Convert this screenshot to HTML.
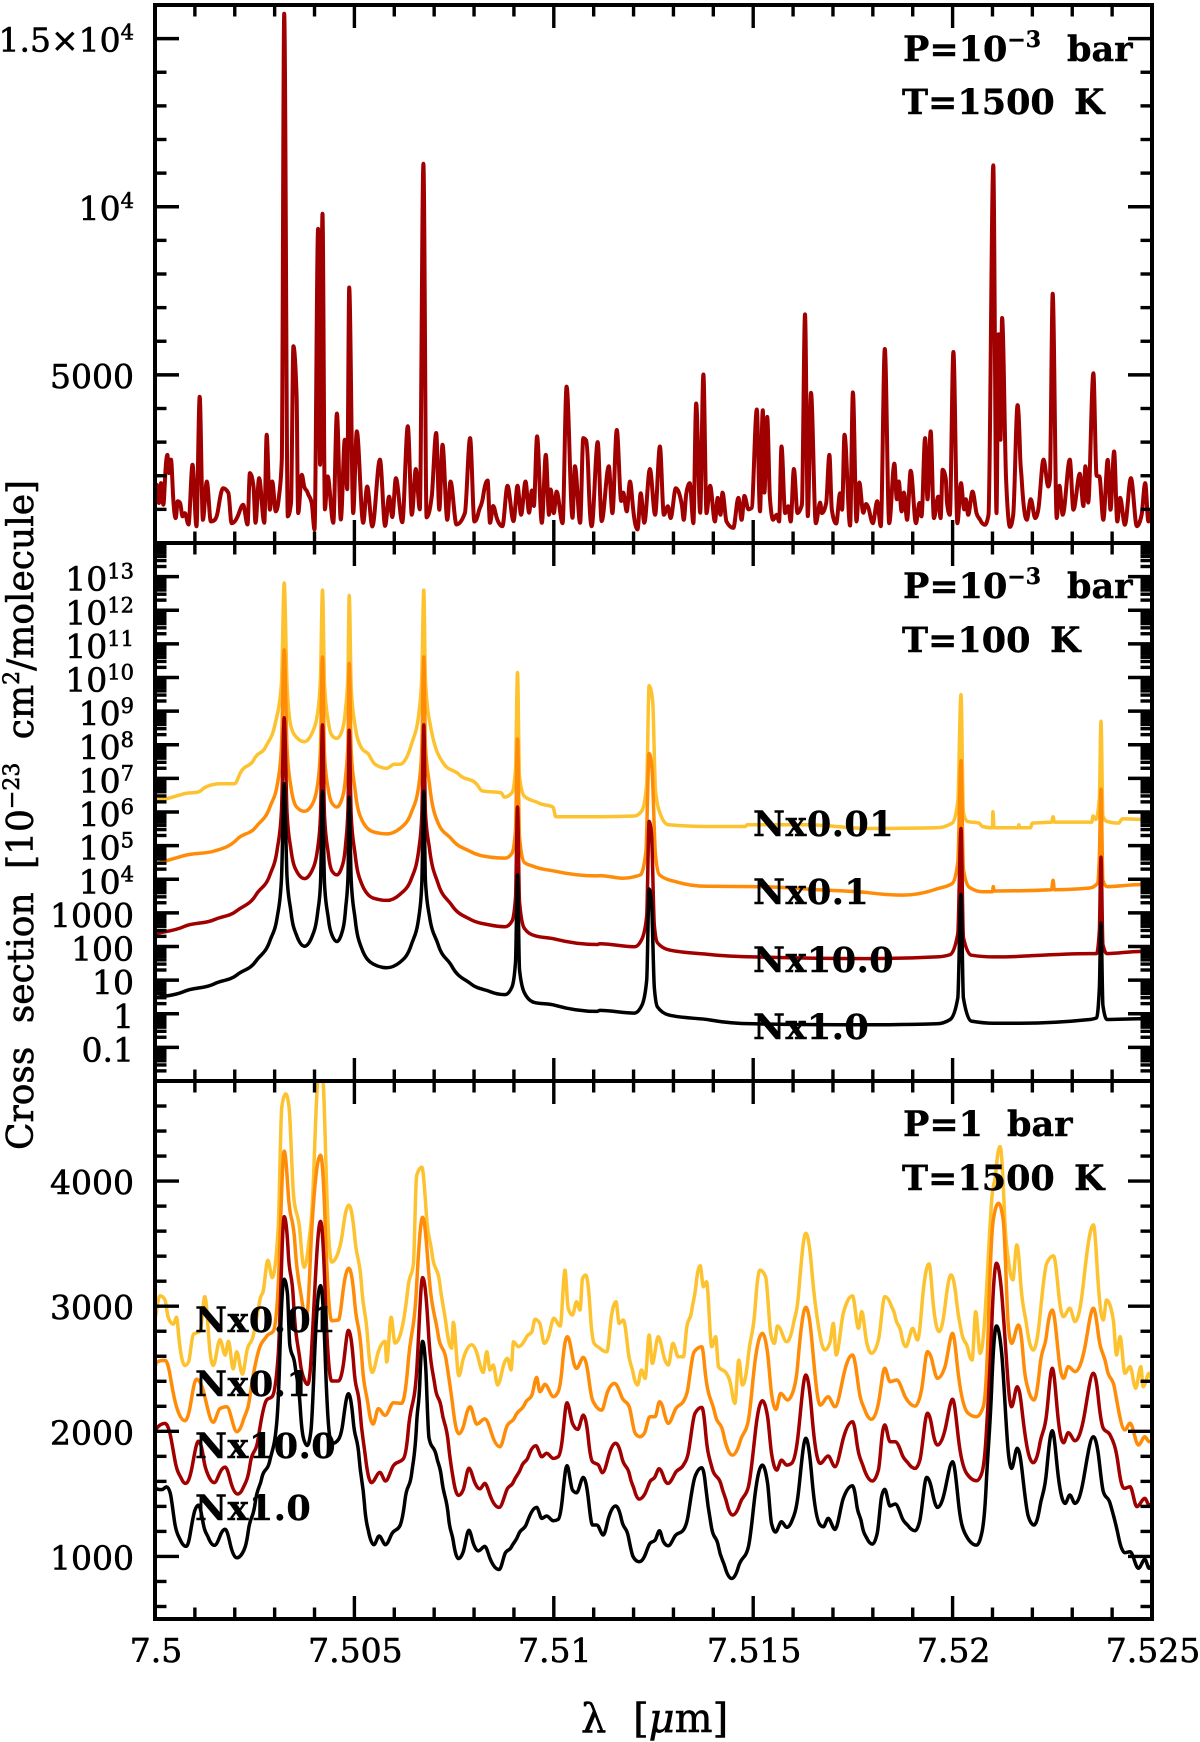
<!DOCTYPE html>
<html lang="en">
<head>
<meta charset="utf-8">
<title>Cross section spectra</title>
<style>
html,body{margin:0;padding:0;background:#fff}
svg{display:block}
text{font-family:"DejaVu Serif","Liberation Serif",serif;fill:#000}
.tick-label{font-size:33px;stroke:#000;stroke-width:.6px}
.note{font-size:35px;font-weight:bold;stroke:#000;stroke-width:.4px}
.series-label{font-size:35px;font-weight:bold;letter-spacing:.5px;stroke:#000;stroke-width:.4px}
.title{font-size:36px;stroke:#000;stroke-width:.6px}
</style>
</head>
<body>
<svg id="chart" xmlns="http://www.w3.org/2000/svg" width="1200" height="1742" viewBox="0 0 1200 1742">
<defs>
<clipPath id="clip-top"><rect x="155" y="5" width="997" height="538"/></clipPath>
<clipPath id="clip-mid"><rect x="155" y="543" width="997" height="538"/></clipPath>
<clipPath id="clip-bot"><rect x="155" y="1081" width="997" height="538"/></clipPath>
</defs>
<g id="curves"></g>
<g id="ticks"></g>
<g id="frames"></g>
<g id="labels"></g>

<text class="title" transform="translate(33,1150) rotate(-90)" word-spacing="12">Cross section [10<tspan font-size="22" dy="-14">−23</tspan><tspan dy="14"> cm</tspan><tspan font-size="22" dy="-14">2</tspan><tspan dy="14">/molecule]</tspan></text>
<text class="title" x="581" y="1732" font-size="40" style="font-size:40px" word-spacing="14">λ [<tspan font-style="italic">μ</tspan>m]</text>

<text class="note" x="903" y="61">P=10<tspan font-size="22" dy="-14">−3</tspan><tspan dy="14" x="1067">bar</tspan></text>
<text class="note" x="902" y="114">T=1500<tspan x="1074">K</tspan></text>
<text class="note" x="903" y="598">P=10<tspan font-size="22" dy="-14">−3</tspan><tspan dy="14" x="1067">bar</tspan></text>
<text class="note" x="902" y="652">T=100<tspan x="1050">K</tspan></text>
<text class="note" x="903" y="1136">P=1<tspan x="1007">bar</tspan></text>
<text class="note" x="902" y="1190">T=1500<tspan x="1074">K</tspan></text>

<text class="series-label" x="753" y="836">Nx0.01</text>
<text class="series-label" x="753" y="904">Nx0.1</text>
<text class="series-label" x="753" y="972">Nx10.0</text>
<text class="series-label" x="753" y="1039">Nx1.0</text>
<text class="series-label" x="195" y="1332">Nx0.01</text>
<text class="series-label" x="195" y="1396">Nx0.1</text>
<text class="series-label" x="195" y="1458">Nx10.0</text>
<text class="series-label" x="195" y="1520">Nx1.0</text>
</svg>

<script>
// Wavelength in every series: offset from 7.5 um, in nm. Pairs are [offset, value].
const xMajorValues=[0,5,10,15,20,25];
const xMajorLabels=["7.5","7.505","7.51","7.515","7.52","7.525"];
const xMinorValues=[1,2,3,4,6,7,8,9,11,12,13,14,16,17,18,19,21,22,23,24];

const topMajorValues=[5000,10000,15000];
const topMajorLabels=[["5000",""],["10","4"],["1.5×10","4"]];
const topMinorValues=[1000,2000,3000,4000,6000,7000,8000,9000,11000,12000,13000,14000];

const midMajorLogs=[-1,0,1,2,3,4,5,6,7,8,9,10,11,12,13];
const midMajorLabels=[["0.1",""],["1",""],["10",""],["100",""],["1000",""],["10","4"],["10","5"],["10","6"],["10","7"],["10","8"],["10","9"],["10","10"],["10","11"],["10","12"],["10","13"]];
const midMinorMultipliers=[2,3,4,5,6,7,8,9];
const midDecades=[-2,-1,0,1,2,3,4,5,6,7,8,9,10,11,12,13];

const botMajorValues=[1000,2000,3000,4000];
const botMajorLabels=[["1000",""],["2000",""],["3000",""],["4000",""]];
const botMinorValues=[600,800,1200,1400,1600,1800,2200,2400,2600,2800,3200,3400,3600,3800,4200,4400,4600];

// Top panel: P=1e-3 bar, T=1500 K, cross section
const topSeries=[[0,1190],[.04,1730],[.10,1190],[.15,1780],[.21,1140],[.25,1880],[.31,2620],[.35,2080],[.40,2480],[.46,1290],[.52,740],[.57,1240],[.63,1190],[.69,790],[.75,890],[.84,550],[.94,2330],[1.04,500],[1.12,4350],[1.20,690],[1.30,1830],[1.40,640],[1.50,690],[1.59,1040],[1.71,1630],[1.84,1490],[1.92,590],[2.09,840],[2.21,1140],[2.32,550],[2.38,2080],[2.47,1680],[2.52,600],[2.61,1930],[2.74,600],[2.80,3220],[2.88,990],[2.94,1830],[3.03,940],[3.11,1390],[3.18,2480],[3.24,15740],[3.33,790],[3.41,1190],[3.47,5850],[3.55,4370],[3.59,890],[3.68,2030],[3.74,1680],[3.83,1490],[3.93,1190],[4.0,400],[4.09,9340],[4.14,2330],[4.20,9790],[4.26,1000],[4.33,1980],[4.47,600],[4.56,3850],[4.66,700],[4.76,3070],[4.82,1600],[4.87,7600],[4.97,890],[5.06,3320],[5.22,600],[5.32,1680],[5.45,490],[5.64,2480],[5.77,510],[5.87,1380],[5.95,770],[6.04,1930],[6.20,620],[6.34,3470],[6.44,840],[6.54,2200],[6.64,1000],[6.73,11280],[6.81,760],[6.94,1400],[7.05,3270],[7.13,990],[7.21,2920],[7.33,690],[7.41,1830],[7.56,550],[7.77,890],[7.90,3120],[8.01,640],[8.11,900],[8.23,1400],[8.34,1860],[8.40,600],[8.48,1100],[8.57,740],[8.71,500],[8.84,1700],[8.99,650],[9.09,1700],[9.18,840],[9.29,1830],[9.38,900],[9.45,1560],[9.50,1100],[9.58,3170],[9.70,600],[9.80,2620],[9.88,840],[9.92,1590],[10.0,890],[10.07,1530],[10.22,590],[10.32,4650],[10.47,750],[10.53,2280],[10.66,600],[10.74,3120],[10.81,3050],[10.87,1930],[10.95,500],[11.10,3000],[11.20,650],[11.38,2280],[11.47,890],[11.58,3360],[11.69,1250],[11.74,1500],[11.83,940],[11.91,1830],[11.99,1000],[12.10,400],[12.18,1480],[12.27,600],[12.41,2200],[12.54,840],[12.66,2870],[12.76,840],[12.86,1090],[12.93,740],[13.06,1630],[13.21,1140],[13.26,690],[13.32,1450],[13.41,1780],[13.50,590],[13.57,4150],[13.67,900],[13.75,5010],[13.83,890],[13.92,1700],[14.04,640],[14.11,1340],[14.18,840],[14.23,1500],[14.33,640],[14.50,450],[14.63,1340],[14.71,690],[14.78,1400],[14.88,1000],[14.96,1040],[15.09,3970],[15.17,940],[15.24,3950],[15.28,1500],[15.35,3750],[15.42,1340],[15.50,690],[15.59,840],[15.65,640],[15.71,2870],[15.80,890],[15.88,1090],[15.94,640],[16.02,2200],[16.11,890],[16.22,1140],[16.30,6800],[16.37,800],[16.45,4470],[16.57,590],[16.68,1200],[16.72,890],[16.83,1190],[16.91,2620],[16.97,1000],[17.08,580],[17.18,1480],[17.23,990],[17.29,3220],[17.43,520],[17.50,4480],[17.59,640],[17.66,1800],[17.76,900],[17.83,1160],[17.90,1000],[18.0,590],[18.11,1240],[18.20,500],[18.30,5770],[18.41,590],[18.54,2360],[18.60,1300],[18.65,1830],[18.72,940],[18.78,1500],[18.86,690],[18.95,2150],[19.08,590],[19.17,1190],[19.22,790],[19.31,3120],[19.37,1300],[19.45,3320],[19.53,740],[19.64,1380],[19.70,740],[19.75,2180],[19.83,1900],[19.86,1200],[19.93,840],[20.02,5680],[20.12,590],[20.21,1780],[20.29,1000],[20.33,1300],[20.39,840],[20.50,1530],[20.60,890],[20.69,690],[20.81,540],[20.90,840],[21.02,11230],[21.10,890],[21.15,6210],[21.20,3070],[21.24,6690],[21.34,1960],[21.44,480],[21.52,840],[21.63,4100],[21.69,2720],[21.73,1930],[21.86,690],[21.96,1300],[22.07,740],[22.15,1000],[22.28,2480],[22.40,1680],[22.44,1900],[22.51,7410],[22.61,740],[22.68,1700],[22.76,840],[22.94,2480],[23.03,990],[23.19,2060],[23.28,1100],[23.33,2280],[23.40,1200],[23.53,5050],[23.61,2000],[23.68,1980],[23.78,690],[23.89,2470],[23.96,990],[24.05,2720],[24.13,640],[24.20,1340],[24.32,540],[24.47,1930],[24.62,500],[24.74,840],[24.83,1780],[24.91,640],[25,1000]];

// Middle panel: P=1e-3 bar, T=100 K, log10 of cross section
const midYellow=[[0,6.36],[.34,6.41],[.72,6.54],[1.10,6.60],[1.25,6.73],[1.63,6.84],[1.99,6.84],[2.14,7.16],[2.49,7.58],[2.78,7.95],[3.02,8.65],[3.17,9.81],[3.24,12.81],[3.31,9.81],[3.41,8.54],[3.55,8.22],[3.75,8.09],[3.93,8.33],[4.08,8.96],[4.15,10.03],[4.20,12.60],[4.25,9.81],[4.35,8.65],[4.44,8.27],[4.56,8.19],[4.68,8.38],[4.78,9.07],[4.84,10.13],[4.87,12.44],[4.92,9.71],[5.02,8.54],[5.18,7.90],[5.37,7.69],[5.52,7.42],[5.81,7.30],[6.0,7.42],[6.14,7.42],[6.43,8.01],[6.62,8.96],[6.69,10.03],[6.74,12.60],[6.78,9.92],[6.91,8.54],[7.25,7.42],[7.63,7.11],[8.06,6.84],[8.2,6.63],[8.68,6.57],[8.76,6.44],[8.95,6.57],[9.04,7.26],[9.09,10.15],[9.14,7.05],[9.26,6.47],[9.64,6.26],[9.98,6.15],[10.05,5.86],[11.08,5.86],[11.16,5.86],[12.02,5.88],[12.21,6.04],[12.33,6.84],[12.39,9.76],[12.48,9.28],[12.55,6.63],[12.69,5.88],[12.87,5.62],[13.84,5.57],[14.80,5.57],[14.85,5.62],[16.34,5.62],[17.88,5.51],[19.6,5.53],[19.99,5.67],[20.13,6.31],[20.21,9.49],[20.27,5.99],[20.37,5.72],[20.66,5.67],[20.75,5.57],[21.0,5.53],[21.01,6.01],[21.04,5.53],[21.64,5.53],[21.66,5.62],[21.69,5.53],[21.95,5.53],[22.0,5.67],[22.48,5.70],[22.52,5.86],[22.55,5.70],[23.49,5.70],[23.52,5.88],[23.59,5.78],[23.68,6.41],[23.72,8.70],[23.77,5.88],[23.87,5.72],[24.16,5.67],[24.26,5.80],[24.69,5.78],[25,5.78]];
const midOrange=[[0,4.45],[.72,4.70],[1.49,4.84],[2.06,5.19],[2.54,5.57],[2.88,6.15],[3.07,6.84],[3.17,7.90],[3.24,10.82],[3.31,7.90],[3.41,6.73],[3.55,6.15],[3.75,6.02],[3.93,6.20],[4.08,6.84],[4.15,7.90],[4.20,10.61],[4.25,7.69],[4.35,6.63],[4.44,6.26],[4.56,6.15],[4.68,6.36],[4.78,7.05],[4.84,8.11],[4.87,10.42],[4.92,7.80],[5.02,6.63],[5.18,5.78],[5.47,5.41],[5.81,5.35],[6.14,5.51],[6.43,5.99],[6.62,6.84],[6.69,7.90],[6.74,10.61],[6.78,8.00],[6.88,6.84],[7.10,5.67],[7.44,5.19],[7.92,4.82],[8.40,4.66],[8.78,4.63],[8.95,4.77],[9.04,5.46],[9.09,8.17],[9.14,5.25],[9.26,4.50],[9.50,4.38],[10.03,4.24],[11.08,4.10],[11.16,4.11],[11.73,4.03],[12.17,4.13],[12.31,4.82],[12.39,7.74],[12.46,7.32],[12.55,4.72],[12.65,4.13],[13.08,3.92],[13.84,3.79],[15.0,3.78],[16.34,3.71],[17.88,3.60],[18.74,3.53],[19.6,3.71],[19.99,3.87],[20.13,4.50],[20.21,7.53],[20.27,4.29],[20.42,3.76],[20.75,3.63],[21.0,3.63],[21.02,3.78],[21.04,3.65],[22.48,3.69],[22.52,3.97],[22.55,3.69],[23.44,3.74],[23.63,3.87],[23.68,4.72],[23.72,6.68],[23.77,3.97],[23.87,3.78],[24.69,3.84],[25,3.84]];
const midRed=[[0,2.38],[.72,2.59],[1.49,2.80],[2.06,3.07],[2.54,3.55],[2.88,4.13],[3.07,4.93],[3.17,5.99],[3.24,8.80],[3.31,5.99],[3.41,4.87],[3.55,4.24],[3.75,4.02],[3.93,4.24],[4.08,4.93],[4.15,5.88],[4.20,8.59],[4.25,5.88],[4.35,4.72],[4.44,4.24],[4.56,4.13],[4.68,4.34],[4.78,5.03],[4.84,6.10],[4.87,8.43],[4.92,5.88],[5.02,4.72],[5.18,3.87],[5.47,3.44],[5.81,3.37],[6.14,3.55],[6.43,4.02],[6.62,4.93],[6.69,5.88],[6.74,8.59],[6.78,5.99],[6.88,4.93],[7.10,3.87],[7.44,3.23],[7.92,2.80],[8.40,2.64],[8.78,2.59],[8.95,2.75],[9.04,3.44],[9.09,6.15],[9.14,3.33],[9.26,2.54],[9.50,2.33],[10.03,2.22],[11.08,2.06],[11.16,2.08],[12.02,1.99],[12.21,2.22],[12.33,2.91],[12.39,5.72],[12.45,5.35],[12.52,2.64],[12.60,2.11],[12.89,1.90],[13.94,1.76],[15.0,1.69],[17.88,1.64],[19.6,1.69],[19.94,1.76],[20.13,2.38],[20.21,5.51],[20.27,2.27],[20.47,1.74],[21.04,1.69],[21.71,1.71],[23.44,1.79],[23.61,1.79],[23.68,2.48],[23.72,4.66],[23.77,2.06],[23.87,1.79],[24.69,1.85],[25,1.85]];
const midBlack=[[0,.47],[.72,.66],[1.49,.89],[2.06,1.16],[2.54,1.58],[2.88,2.17],[3.07,2.91],[3.17,3.97],[3.24,6.84],[3.31,4.08],[3.41,3.02],[3.55,2.33],[3.75,2.01],[3.93,2.27],[4.08,3.02],[4.15,3.87],[4.20,6.61],[4.25,3.87],[4.35,2.80],[4.44,2.33],[4.56,2.15],[4.68,2.38],[4.78,3.12],[4.84,4.08],[4.87,6.44],[4.92,3.97],[5.02,2.80],[5.18,1.95],[5.47,1.48],[5.81,1.37],[6.14,1.53],[6.43,2.06],[6.62,2.91],[6.69,3.87],[6.74,6.61],[6.78,3.97],[6.88,2.91],[7.10,2.06],[7.44,1.42],[7.92,.89],[8.40,.66],[8.78,.57],[8.95,.79],[9.04,1.53],[9.09,4.13],[9.14,1.32],[9.26,.63],[9.50,.34],[10.03,.25],[11.08,.07],[11.16,.10],[12.02,.02],[12.21,.25],[12.33,1.0],[12.39,3.71],[12.45,3.33],[12.52,.79],[12.60,.20],[12.89,-.04],[13.94,-.19],[15.0,-.30],[17.88,-.33],[19.6,-.30],[19.94,-.17],[20.13,.47],[20.21,3.55],[20.27,.47],[20.47,-.22],[21.04,-.28],[21.71,-.28],[23.44,-.17],[23.61,-.12],[23.68,.79],[23.72,2.70],[23.77,.25],[23.87,-.17],[24.69,-.15],[25,-.15]];

// Bottom panel: P=1 bar, T=1500 K, cross section
const botYellow=[[0,2900],[.04,2967],[.13,3083],[.25,3050],[.33,2912],[.46,2857],[.54,2912],[.60,2747],[.75,2526],[.84,2554],[.96,2774],[1.13,2802],[1.25,3077],[1.38,2636],[1.46,2526],[1.63,2733],[1.76,2609],[1.84,2719],[1.96,2499],[2.05,2636],[2.19,2457],[2.30,2636],[2.47,2774],[2.63,3050],[2.72,3132],[2.83,3367],[2.94,3229],[3.09,3628],[3.18,4593],[3.28,4697],[3.36,4593],[3.47,3904],[3.64,3573],[3.74,3311],[3.84,3463],[3.97,3986],[4.10,4830],[4.20,4830],[4.30,3986],[4.43,3353],[4.60,3435],[4.72,3628],[4.86,3807],[5.01,3546],[5.18,3160],[5.33,2747],[5.45,2471],[5.60,2636],[5.77,2719],[5.81,2554],[5.92,2912],[6.02,2705],[6.23,2884],[6.35,3160],[6.48,3339],[6.56,4042],[6.69,4110],[6.81,3711],[6.94,3435],[7.15,3160],[7.31,2829],[7.44,2664],[7.48,2871],[7.62,2444],[7.73,2581],[7.94,2692],[8.11,2581],[8.23,2471],[8.32,2636],[8.40,2490],[8.48,2530],[8.59,2370],[8.73,2517],[8.84,2583],[8.93,2490],[8.99,2716],[9.11,2676],[9.32,2756],[9.45,2796],[9.53,2895],[9.65,2863],[9.76,2703],[9.90,2796],[10.0,2903],[10.16,2842],[10.28,3289],[10.36,2983],[10.47,2930],[10.57,3036],[10.66,2970],[10.72,3223],[10.80,3249],[10.91,2970],[11.01,2703],[11.16,2663],[11.33,2636],[11.45,2930],[11.56,3036],[11.64,2863],[11.74,2890],[11.85,2676],[11.99,2463],[12.10,2370],[12.20,2490],[12.29,2423],[12.39,2770],[12.47,2543],[12.62,2756],[12.75,2610],[12.87,2530],[12.99,2703],[13.12,2596],[13.25,2596],[13.33,2823],[13.46,2970],[13.56,3156],[13.67,3324],[13.75,3156],[13.83,3196],[13.96,2676],[14.06,2756],[14.13,2517],[14.33,2463],[14.46,2330],[14.54,2223],[14.64,2570],[14.73,2370],[14.88,2610],[15.05,2996],[15.17,3289],[15.31,3236],[15.44,2783],[15.53,2703],[15.61,2842],[15.71,2796],[15.84,2716],[16.01,2863],[16.13,3076],[16.32,3583],[16.47,3289],[16.68,2757],[16.80,2650],[16.93,2717],[17.01,2863],[17.08,2610],[17.26,2943],[17.49,3082],[17.64,2823],[17.72,2957],[17.85,2703],[17.97,2624],[18.14,2730],[18.30,3077],[18.47,2997],[18.56,2917],[18.71,2783],[18.83,2677],[19.0,2823],[19.12,2730],[19.22,2970],[19.41,3338],[19.52,2997],[19.66,2797],[19.81,2997],[19.96,3250],[20.10,3037],[20.23,2783],[20.39,2650],[20.49,2570],[20.58,2957],[20.69,2624],[20.81,2917],[20.98,3849],[21.09,4089],[21.19,4276],[21.31,3690],[21.40,3370],[21.51,3210],[21.61,3490],[21.69,3263],[21.86,2837],[22.02,2650],[22.19,2917],[22.36,3343],[22.53,3402],[22.65,3130],[22.78,2917],[22.94,2983],[23.07,2877],[23.28,3183],[23.53,3650],[23.65,3183],[23.78,2890],[23.86,3050],[24.03,2890],[24.11,2610],[24.20,2757],[24.32,2464],[24.45,2517],[24.59,2344],[24.72,2517],[24.78,2357],[24.93,2464],[25,2400]];
const botOrange=[[0,2510],[.04,2554],[.25,2568],[.38,2444],[.54,2196],[.75,2085],[.88,2196],[1.04,2416],[1.25,2278],[1.46,2072],[1.63,2182],[1.80,2196],[2.05,1997],[2.21,2085],[2.38,2278],[2.59,2636],[2.80,2760],[2.97,2802],[3.09,3160],[3.24,4240],[3.34,3904],[3.51,3491],[3.68,3050],[3.80,2912],[3.93,3601],[4.15,4207],[4.26,3711],[4.43,2884],[4.60,2890],[4.72,3132],[4.86,3303],[5.01,3022],[5.18,2609],[5.35,2196],[5.47,2058],[5.60,2182],[5.77,2127],[5.98,2229],[6.18,2223],[6.35,2554],[6.56,3160],[6.71,3711],[6.85,3325],[7.10,2774],[7.31,2554],[7.48,2168],[7.62,1981],[7.77,2085],[7.90,2196],[8.07,2058],[8.27,2099],[8.44,1983],[8.65,1877],[8.82,2037],[9.03,2117],[9.28,2223],[9.45,2290],[9.57,2431],[9.65,2317],[9.78,2375],[9.99,2277],[10.11,2317],[10.21,2517],[10.34,2756],[10.47,2596],[10.57,2503],[10.74,2591],[10.87,2437],[10.97,2250],[11.20,2170],[11.35,2317],[11.52,2383],[11.70,2277],[11.89,2197],[12.04,1984],[12.16,1957],[12.27,1984],[12.41,2117],[12.54,2117],[12.65,2237],[12.75,2170],[12.87,2063],[13.04,2170],[13.27,2250],[13.37,2357],[13.52,2636],[13.71,2676],[13.81,2437],[14.04,2143],[14.25,1984],[14.48,1810],[14.67,1917],[14.88,2090],[15.05,2570],[15.23,2783],[15.36,2623],[15.46,2303],[15.57,2175],[15.69,2303],[15.86,2250],[16.01,2330],[16.11,2517],[16.32,2991],[16.47,2730],[16.68,2210],[16.88,2277],[17.05,2197],[17.26,2437],[17.49,2610],[17.64,2357],[17.80,2170],[17.97,2096],[18.14,2224],[18.30,2504],[18.43,2397],[18.60,2410],[18.81,2277],[19.06,2202],[19.22,2330],[19.37,2637],[19.48,2570],[19.62,2424],[19.81,2517],[20.0,2783],[20.14,2464],[20.39,2144],[20.60,2117],[20.77,2197],[20.90,2890],[21.02,3690],[21.15,3823],[21.27,3690],[21.40,2837],[21.48,2703],[21.65,2850],[21.77,2597],[21.90,2330],[22.04,2250],[22.19,2517],[22.36,2783],[22.50,2970],[22.65,2624],[22.78,2424],[22.90,2517],[23.07,2477],[23.32,2677],[23.53,2983],[23.65,2783],[23.86,2517],[24.07,2330],[24.32,2011],[24.45,2064],[24.66,1891],[24.82,1957],[24.93,1917],[25,1930]];
const botRed=[[0,2000],[.04,2025],[.25,2063],[.38,1975],[.50,1769],[.67,1617],[.77,1584],[.92,1700],[1.09,1920],[1.21,1796],[1.34,1645],[1.49,1590],[1.63,1672],[1.76,1714],[1.88,1617],[2.07,1499],[2.21,1548],[2.38,1727],[2.59,1948],[2.80,2251],[2.94,2278],[3.09,2609],[3.24,3716],[3.34,3435],[3.47,3050],[3.64,2554],[3.74,2416],[3.83,2375],[3.93,2664],[4.15,3678],[4.26,3160],[4.43,2402],[4.60,2402],[4.72,2526],[4.85,2807],[4.99,2499],[5.14,2168],[5.27,1810],[5.43,1590],[5.64,1672],[5.78,1603],[5.98,1727],[6.23,1782],[6.35,2003],[6.56,2471],[6.71,3229],[6.85,2829],[7.02,2361],[7.19,2168],[7.36,1893],[7.48,1617],[7.61,1488],[7.73,1534],[7.87,1705],[8.02,1590],[8.15,1540],[8.27,1584],[8.40,1490],[8.63,1392],[8.82,1530],[8.99,1597],[9.19,1717],[9.36,1797],[9.55,1885],[9.70,1797],[9.82,1824],[9.99,1784],[10.11,1797],[10.21,1930],[10.33,2229],[10.47,2063],[10.60,2015],[10.74,2130],[10.87,1930],[10.97,1757],[11.12,1730],[11.22,1669],[11.37,1797],[11.55,1904],[11.70,1797],[11.91,1637],[12.02,1530],[12.14,1458],[12.29,1504],[12.41,1597],[12.54,1637],[12.64,1701],[12.75,1637],[12.86,1584],[13.04,1664],[13.25,1730],[13.37,1824],[13.54,2143],[13.71,2191],[13.81,1984],[13.96,1717],[14.21,1557],[14.34,1424],[14.48,1331],[14.67,1424],[14.88,1557],[15.05,1984],[15.23,2245],[15.36,2117],[15.46,1824],[15.59,1690],[15.71,1770],[15.84,1730],[15.96,1744],[16.11,1930],[16.32,2450],[16.47,2143],[16.68,1744],[16.88,1803],[17.05,1717],[17.26,1944],[17.49,2077],[17.59,1931],[17.76,1717],[17.99,1603],[18.14,1691],[18.22,1931],[18.30,2051],[18.43,1917],[18.56,1917],[18.72,1824],[18.89,1744],[19.06,1704],[19.18,1771],[19.37,2144],[19.48,2037],[19.62,1891],[19.81,2011],[20.0,2256],[20.14,1957],[20.35,1664],[20.60,1605],[20.73,1664],[20.84,1957],[20.98,2837],[21.10,3343],[21.23,3103],[21.40,2357],[21.48,2197],[21.62,2357],[21.73,2197],[21.90,1824],[22.02,1749],[22.19,1904],[22.36,2144],[22.50,2504],[22.65,2090],[22.78,1909],[22.90,1989],[23.07,1925],[23.28,2090],[23.53,2464],[23.65,2277],[23.78,2024],[23.95,1971],[24.16,1717],[24.30,1544],[24.45,1557],[24.62,1398],[24.82,1464],[24.93,1411],[25,1420]];
const botBlack=[[0,1560],[.04,1540],[.17,1534],[.29,1556],[.38,1507],[.50,1259],[.63,1135],[.78,1080],[.88,1176],[1.0,1369],[1.09,1410],[1.21,1259],[1.34,1149],[1.49,1088],[1.63,1163],[1.76,1218],[1.88,1107],[2.05,989],[2.19,1025],[2.34,1204],[2.51,1424],[2.67,1617],[2.88,1769],[3.05,2058],[3.13,2609],[3.24,3215],[3.32,3105],[3.38,2691],[3.51,2526],[3.64,2196],[3.72,1948],[3.82,1887],[3.91,2003],[4.01,2664],[4.15,3165],[4.26,2664],[4.39,1948],[4.47,1906],[4.60,1934],[4.72,2085],[4.85,2300],[4.97,2085],[5.12,1782],[5.25,1424],[5.35,1204],[5.49,1094],[5.62,1163],[5.78,1094],[5.93,1176],[6.14,1245],[6.27,1452],[6.44,1672],[6.56,2058],[6.64,2389],[6.71,2719],[6.79,2499],[6.87,1948],[7.06,1796],[7.19,1617],[7.36,1314],[7.48,1121],[7.61,983],[7.73,1039],[7.87,1209],[7.98,1107],[8.11,1044],[8.27,1080],[8.40,984],[8.63,896],[8.78,1024],[8.94,1077],[9.11,1171],[9.32,1264],[9.57,1392],[9.70,1304],[9.82,1323],[9.99,1285],[10.11,1296],[10.21,1450],[10.33,1725],[10.47,1530],[10.57,1509],[10.74,1632],[10.87,1450],[10.97,1251],[11.08,1251],[11.24,1171],[11.37,1304],[11.55,1403],[11.70,1291],[11.87,1157],[11.99,997],[12.14,957],[12.27,997],[12.41,1104],[12.54,1131],[12.65,1205],[12.75,1117],[12.87,1085],[13.04,1163],[13.25,1211],[13.37,1331],[13.54,1637],[13.71,1709],[13.81,1557],[13.96,1224],[14.13,1077],[14.29,917],[14.46,824],[14.63,917],[14.88,1077],[15.05,1504],[15.23,1730],[15.36,1584],[15.46,1264],[15.56,1195],[15.71,1277],[15.84,1232],[15.96,1277],[16.13,1504],[16.32,1944],[16.47,1637],[16.68,1251],[16.76,1238],[16.88,1304],[17.05,1216],[17.26,1464],[17.49,1565],[17.59,1424],[17.72,1264],[17.85,1144],[17.99,1099],[18.11,1184],[18.22,1478],[18.30,1536],[18.43,1403],[18.56,1419],[18.72,1318],[18.89,1243],[19.06,1206],[19.18,1291],[19.35,1632],[19.48,1531],[19.62,1392],[19.81,1531],[20.0,1757],[20.14,1451],[20.31,1184],[20.60,1091],[20.73,1184],[20.84,1557],[20.98,2357],[21.10,2842],[21.23,2623],[21.40,1824],[21.48,1704],[21.62,1864],[21.73,1717],[21.90,1318],[22.04,1251],[22.19,1398],[22.36,1691],[22.50,2005],[22.65,1637],[22.82,1424],[22.94,1491],[23.07,1424],[23.28,1611],[23.53,1957],[23.65,1824],[23.78,1518],[23.95,1424],[24.16,1158],[24.32,1030],[24.45,1038],[24.66,905],[24.82,977],[24.93,905],[25,930]];

const NS='http://www.w3.org/2000/svg';
const X_LEFT=155, X_RIGHT=1152;
const x=nm=>X_LEFT+nm/25*(X_RIGHT-X_LEFT);
const linear=(d0,d1,top,bot)=>v=>bot-(v-d0)/(d1-d0)*(bot-top);
const yTop=linear(0,16000,5,543);
const yMid=linear(-2,14,543,1081);
const yBot=linear(500,4800,1081,1619);

const curves=document.getElementById('curves');
const ticks=document.getElementById('ticks');
const frames=document.getElementById('frames');
const labels=document.getElementById('labels');

// Monotone cubic path through the points, so peaks round off without overshoot.
function smoothPath(pts){
  const n=pts.length;
  const slope=[];
  for(let i=0;i<n-1;i++){
    slope.push((pts[i+1][1]-pts[i][1])/(pts[i+1][0]-pts[i][0]));
  }
  const tan=[slope[0]];
  for(let i=1;i<n-1;i++){
    const a=slope[i-1],b=slope[i];
    tan.push(a*b<=0?0:(Math.sign(a)+Math.sign(b))*Math.min(Math.abs(a),Math.abs(b)));
  }
  tan.push(slope[n-2]);
  let d='M'+pts[0][0].toFixed(1)+' '+pts[0][1].toFixed(1);
  for(let i=0;i<n-1;i++){
    const h=(pts[i+1][0]-pts[i][0])/3;
    d+='C'+(pts[i][0]+h).toFixed(1)+' '+(pts[i][1]+tan[i]*h).toFixed(1)+' '+(pts[i+1][0]-h).toFixed(1)+' '+(pts[i+1][1]-tan[i+1]*h).toFixed(1)+' '+pts[i+1][0].toFixed(1)+' '+pts[i+1][1].toFixed(1);
  }
  return d;
}
function drawCurve(pairs,yFn,color,clip,name,width){
  const el=document.createElementNS(NS,'path');
  
  
  el.setAttribute('d',smoothPath(pairs.map(p=>[x(p[0]),yFn(p[1])])));
  el.setAttribute('fill','none');
  el.setAttribute('stroke',color);
  el.setAttribute('stroke-width',width);
  el.setAttribute('stroke-linejoin','round');
  el.setAttribute('clip-path','url(#'+clip+')');
  curves.appendChild(el);
}
function drawTick(x1,y1,x2,y2,name){
  const el=document.createElementNS(NS,'line');
  
  
  el.setAttribute('x1',x1);
  el.setAttribute('y1',y1);
  el.setAttribute('x2',x2);
  el.setAttribute('y2',y2);
  el.setAttribute('stroke','#000');
  el.setAttribute('stroke-width','3.4');
  ticks.appendChild(el);
}
function yTicks(value,yFn,len,name){
  const py=yFn(value);
  drawTick(X_LEFT,py,X_LEFT+len,py,name+'-left');
  drawTick(X_RIGHT,py,X_RIGHT-len,py,name+'-right');
}
function drawLabel(label,px,py,anchor,name){
  const el=document.createElementNS(NS,'text');
  
  
  el.setAttribute('class','tick-label');
  el.setAttribute('x',px);
  el.setAttribute('y',py);
  el.setAttribute('text-anchor',anchor);
  el.appendChild(document.createTextNode(label[0]));
  if(label[1]){
    const sup=document.createElementNS(NS,'tspan');
    sup.setAttribute('font-size','21');
    sup.setAttribute('dy','-12');
    sup.textContent=label[1];
    el.appendChild(sup);
  }
  labels.appendChild(el);
}

const COLORS={yellow:'#fdc22f',orange:'#ff8c08',red:'#a00000',black:'#000000'};
drawCurve(topSeries,yTop,COLORS.red,'clip-top','panel-1-series',4);
drawCurve(midYellow,yMid,COLORS.yellow,'clip-mid','panel-2-series-n0.01',3.5);
drawCurve(midOrange,yMid,COLORS.orange,'clip-mid','panel-2-series-n0.1',3.5);
drawCurve(midRed,yMid,COLORS.red,'clip-mid','panel-2-series-n10',3.5);
drawCurve(midBlack,yMid,COLORS.black,'clip-mid','panel-2-series-n1',3.5);
drawCurve(botYellow,yBot,COLORS.yellow,'clip-bot','panel-3-series-n0.01',3.5);
drawCurve(botOrange,yBot,COLORS.orange,'clip-bot','panel-3-series-n0.1',3.5);
drawCurve(botRed,yBot,COLORS.red,'clip-bot','panel-3-series-n10',3.5);
drawCurve(botBlack,yBot,COLORS.black,'clip-bot','panel-3-series-n1',3.5);

const panelEdges=[[5,543],[543,1081],[1081,1619]];
panelEdges.forEach(edge=>{
  xMajorValues.forEach(v=>{
    drawTick(x(v),edge[0],x(v),edge[0]+23,'x-major-tick-top');
    drawTick(x(v),edge[1],x(v),edge[1]-23,'x-major-tick-bottom');
  });
  xMinorValues.forEach(v=>{
    drawTick(x(v),edge[0],x(v),edge[0]+11.5,'x-minor-tick-top');
    drawTick(x(v),edge[1],x(v),edge[1]-11.5,'x-minor-tick-bottom');
  });
  const frame=document.createElementNS(NS,'rect');
  
  
  frame.setAttribute('x',X_LEFT);
  frame.setAttribute('y',edge[0]);
  frame.setAttribute('width',X_RIGHT-X_LEFT);
  frame.setAttribute('height',edge[1]-edge[0]);
  frame.setAttribute('fill','none');
  frame.setAttribute('stroke','#000');
  frame.setAttribute('stroke-width','4');
  frames.appendChild(frame);
});

topMajorValues.forEach((v,i)=>{
  yTicks(v,yTop,24,'panel-1-y-major-tick');
  drawLabel(topMajorLabels[i],134,yTop(v)+13,'end','panel-1-y-tick-label');
});
topMinorValues.forEach(v=>yTicks(v,yTop,11.5,'panel-1-y-minor-tick'));

midMajorLogs.forEach((v,i)=>{
  yTicks(v,yMid,24,'panel-2-y-major-tick');
  drawLabel(midMajorLabels[i],134,yMid(v)+14,'end','panel-2-y-tick-label');
});
midDecades.forEach(d=>midMinorMultipliers.forEach(m=>{
  yTicks(d+Math.log10(m),yMid,11.5,'panel-2-y-minor-tick');
}));

botMajorValues.forEach((v,i)=>{
  yTicks(v,yBot,24,'panel-3-y-major-tick');
  drawLabel(botMajorLabels[i],134,yBot(v)+13,'end','panel-3-y-tick-label');
});
botMinorValues.forEach(v=>yTicks(v,yBot,11.5,'panel-3-y-minor-tick'));

xMajorValues.forEach((v,i)=>{
  drawLabel([xMajorLabels[i],''],x(v)+1,1662,'middle','x-tick-label');
});
</script>
</body>
</html>
